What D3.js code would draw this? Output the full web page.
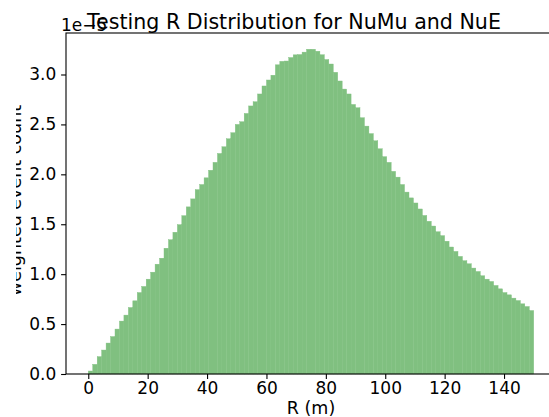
<!DOCTYPE html>
<html>
<head>
<meta charset="utf-8">
<script src="https://cdn.jsdelivr.net/npm/d3@7"></script>
<style>
  html, body { margin: 0; padding: 0; background: #fff; }
  svg { display: block; }
  text { font-family: "DejaVu Sans", sans-serif; fill: #000; }
</style>
</head>
<body>
<svg id="chart" width="549" height="417"></svg>
<script>
// Histogram of R (m): 100 bins of 1.5 m from 0 to 150
const binEdgeStart = 0;
const binWidth = 1.5;
// weighted event counts, in units of 1e-5
const counts = [
  0.03, 0.097, 0.174, 0.24, 0.31, 0.375, 0.45, 0.53, 0.59, 0.666,
  0.733, 0.816, 0.877, 0.95, 1.02, 1.10, 1.16, 1.26, 1.345, 1.42,
  1.496, 1.586, 1.674, 1.754, 1.847, 1.898, 1.965, 2.041, 2.12, 2.209,
  2.276, 2.356, 2.417, 2.50, 2.527, 2.61, 2.685, 2.727, 2.805, 2.885,
  2.945, 2.993, 3.097, 3.132, 3.135, 3.17, 3.197, 3.20, 3.224, 3.253,
  3.253, 3.233, 3.198, 3.15, 3.105, 3.022, 2.935, 2.854, 2.805, 2.70,
  2.667, 2.567, 2.483, 2.408, 2.336, 2.256, 2.177, 2.12, 2.03, 1.972,
  1.898, 1.822, 1.764, 1.713, 1.653, 1.588, 1.53, 1.482, 1.425, 1.386,
  1.33, 1.272, 1.228, 1.178, 1.135, 1.104, 1.061, 1.027, 0.984, 0.95,
  0.927, 0.887, 0.853, 0.816, 0.793, 0.76, 0.736, 0.703, 0.676, 0.636
];
const xTicks = [0, 20, 40, 60, 80, 100, 120, 140];
const yTicks = [0.0, 0.5, 1.0, 1.5, 2.0, 2.5, 3.0];
const offsetLabel = "1e\u22125";
const titleText = "Testing R Distribution for NuMu and NuE";
const xLabelText = "R (m)";
const yLabelText = "weighted event count";

const bins = counts.map((c, i) => ({
  x0: binEdgeStart + i * binWidth,
  x1: binEdgeStart + (i + 1) * binWidth,
  value: c
}));

const svg = d3.select("#chart");
const plot = { left: 66, top: 33, right: 556, bottom: 374 };

const xMin = bins[0].x0, xMax = bins[bins.length - 1].x1;
const xPad = (xMax - xMin) * 0.05;
const x = d3.scaleLinear()
  .domain([xMin - xPad, xMax + xPad])
  .range([plot.left, plot.right]);
const y = d3.scaleLinear()
  .domain([0, d3.max(counts) * 1.05])
  .range([plot.bottom, plot.top]);

// bars
svg.append("g")
  .selectAll("rect")
  .data(bins)
  .join("rect")
  .attr("x", d => x(d.x0))
  .attr("width", d => x(d.x1) - x(d.x0))
  .attr("y", d => y(d.value))
  .attr("height", d => y(0) - y(d.value))
  .attr("fill", "#80c080")
  .attr("stroke", "#80c080")
  .attr("stroke-width", 0.4);

const tickLen = 4.9;
const axisColor = "#000";

// x axis
const xAxis = svg.append("g")
  .attr("transform", `translate(0,${plot.bottom})`)
  .call(d3.axisBottom(x).tickValues(xTicks).tickFormat(d3.format("d"))
    .tickSize(tickLen).tickPadding(3.4));
xAxis.select(".domain").remove();
xAxis.selectAll(".tick line").attr("stroke", axisColor).attr("stroke-width", 1.1);
xAxis.selectAll(".tick text")
  .attr("font-size", 17).attr("font-family", "DejaVu Sans").attr("fill", "#000");

// y axis
const yAxis = svg.append("g")
  .attr("transform", `translate(${plot.left},0)`)
  .call(d3.axisLeft(y).tickValues(yTicks).tickFormat(d3.format(".1f"))
    .tickSize(tickLen).tickPadding(4.9));
yAxis.select(".domain").remove();
yAxis.selectAll(".tick line").attr("stroke", axisColor).attr("stroke-width", 1.1);
yAxis.selectAll(".tick text")
  .attr("font-size", 17).attr("font-family", "DejaVu Sans").attr("fill", "#000");

// spines
svg.append("rect")
  .attr("x", plot.left).attr("y", plot.top)
  .attr("width", plot.right - plot.left).attr("height", plot.bottom - plot.top)
  .attr("fill", "none").attr("stroke", axisColor).attr("stroke-width", 1.1);

// scale offset text
svg.append("text")
  .attr("x", 61).attr("y", 31)
  .attr("font-size", 17)
  .text(offsetLabel);

// title
svg.append("text")
  .attr("x", 87).attr("y", 28.5)
  .attr("font-size", 20.6)
  .text(titleText);

// x label
svg.append("text")
  .attr("x", (plot.left + plot.right) / 2).attr("y", 413.5)
  .attr("text-anchor", "middle")
  .attr("font-size", 17.5)
  .text(xLabelText);

// y label, partly cut off at the left edge
svg.append("clipPath").attr("id", "ylabel-clip")
  .append("rect").attr("x", 16).attr("y", 0).attr("width", 40).attr("height", 417);
svg.append("g").attr("clip-path", "url(#ylabel-clip)")
  .append("text")
  .attr("transform", `translate(20.5,${(plot.top + plot.bottom) / 2 - 3}) rotate(-90)`)
  .attr("text-anchor", "middle")
  .attr("font-size", 17.5)
  .text(yLabelText);
</script>
</body>
</html>
